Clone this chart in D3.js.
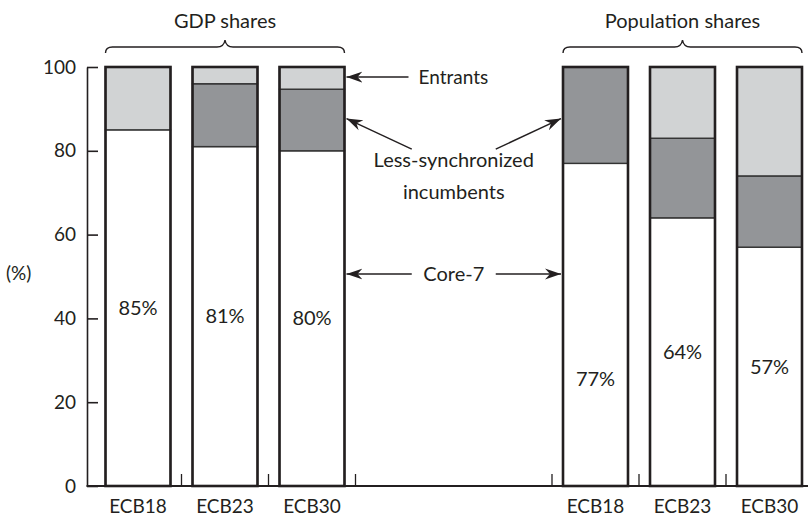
<!DOCTYPE html>
<html>
<head>
<meta charset="utf-8">
<script src="https://cdn.jsdelivr.net/npm/d3@7"></script>
<style>
  body { margin: 0; background: #fff; }
  svg { display: block; }
  text { font-family: Lato, "Open Sans", sans-serif; font-weight: 400; fill: #231f20; }
</style>
</head>
<body>
<div class="container"></div>
<script>
const WIDTH = 808;
const HEIGHT = 516;

const groups = ["GDP shares", "Population shares"];
const years = ["ECB18", "ECB23", "ECB30"];
const gdpCore = [85, 81, 80];
const gdpLess = [0, 15, 14.7];
const gdpEntrants = [15, 4, 5.3];
const popCore = [77, 64, 57];
const popLess = [23, 19, 17];
const popEntrants = [0, 17, 26];
const yTicks = [0, 20, 40, 60, 80, 100];

const KEYS = ["core", "less", "entrants"];
const COLORS = { core: "#ffffff", less: "#939598", entrants: "#d1d3d4" };
const INK = "#231f20";

var translate = function(x, y){
	return "translate(" + x + "," + y + ")";
};

var prepare = function(){
	var rows = [];
	years.forEach(function(yr, i){
		rows.push({group: groups[0], year: yr, core: gdpCore[i], less: gdpLess[i], entrants: gdpEntrants[i]});
	});
	years.forEach(function(yr, i){
		rows.push({group: groups[1], year: yr, core: popCore[i], less: popLess[i], entrants: popEntrants[i]});
	});
	return rows;
};

var data = prepare();

var svg = d3.select('.container').append('svg')
	.attr('width', WIDTH)
	.attr('height', HEIGHT);

var defs = svg.append('defs');
defs.append('marker')
	.attr('id', 'head')
	.attr('viewBox', '-16 -6 18 12')
	.attr('markerWidth', 18)
	.attr('markerHeight', 12)
	.attr('markerUnits', 'userSpaceOnUse')
	.attr('refX', 0)
	.attr('refY', 0)
	.attr('orient', 'auto')
	.append('path')
	.attr('d', 'M0,0 L-16,-5.5 L-11,0 L-16,5.5 Z')
	.attr('fill', INK);

var y = d3.scaleLinear().domain([0, 100]).range([486, 67]);

var xGroup = d3.scaleBand().domain(groups).range([94.5, 813]).paddingInner(0.4295);
var xYear = d3.scaleBand().domain(years).range([0, xGroup.bandwidth()])
	.paddingInner(0.253).paddingOuter(0.1265);

var barX = function(d){ return xGroup(d.group) + xYear(d.year); };

// y axis
var yAxis = d3.axisLeft(y).tickValues(yTicks).tickSize(-11).tickSizeOuter(0).tickPadding(11);
var gy = svg.append('g').attr('transform', translate(87, 0)).call(yAxis);
gy.select('.domain').attr('stroke', INK).attr('stroke-width', 1.6);
gy.selectAll('.tick line').attr('stroke', INK).attr('stroke-width', 1.6);
gy.selectAll('.tick text')
	.attr('font-size', 19)
	.attr('font-family', 'Lato, sans-serif')
	.attr('fill', INK);

svg.append('text')
	.attr('x', 6).attr('y', 280)
	.attr('font-size', 19)
	.text('(%)');

// stacked bars
var series = d3.stack().keys(KEYS)(data);

var layers = svg.append('g').selectAll('g')
	.data(series)
	.enter().append('g')
	.attr('fill', function(s){ return COLORS[s.key]; });

layers.selectAll('rect')
	.data(function(s){ return s.filter(function(d){ return d[1] - d[0] > 0; }); })
	.enter().append('rect')
	.attr('x', function(d){ return barX(d.data); })
	.attr('y', function(d){ return y(d[1]); })
	.attr('width', xYear.bandwidth())
	.attr('height', function(d){ return y(d[0]) - y(d[1]); })
	.attr('stroke', '#333')
	.attr('stroke-width', 1.4);

// outlines
svg.append('g').selectAll('rect')
	.data(data)
	.enter().append('rect')
	.attr('x', barX)
	.attr('y', y(100))
	.attr('width', xYear.bandwidth())
	.attr('height', y(0) - y(100))
	.attr('fill', 'none')
	.attr('stroke', INK)
	.attr('stroke-width', 2.6);

// x axis line and separators
var step = xYear.step();
var sepX = [];
groups.forEach(function(g){
	for (var k = 0; k <= years.length; k++) sepX.push(xGroup(g) + k * step);
});
sepX = sepX.slice(1);

var gx = svg.append('g');
gx.append('line')
	.attr('x1', 86.5).attr('x2', WIDTH)
	.attr('y1', y(0)).attr('y2', y(0))
	.attr('stroke', INK).attr('stroke-width', 1.8);
gx.selectAll('.sep')
	.data(sepX)
	.enter().append('line')
	.attr('x1', function(d){ return d; }).attr('x2', function(d){ return d; })
	.attr('y1', y(0)).attr('y2', y(0) - 12)
	.attr('stroke', INK).attr('stroke-width', 1.3);

gx.selectAll('.cat')
	.data(data)
	.enter().append('text')
	.attr('x', function(d){ return barX(d) + xYear.bandwidth() / 2; })
	.attr('y', 513)
	.attr('text-anchor', 'middle')
	.attr('font-size', 19)
	.text(function(d){ return d.year; });

// percentage labels inside core segment
var POP_FIRST_DROP = 54;
svg.append('g').selectAll('text')
	.data(data)
	.enter().append('text')
	.attr('x', function(d){ return barX(d) + xYear.bandwidth() / 2; })
	.attr('y', function(d, i){
		var cy = y(d.core / 2);
		if (d.group === groups[1] && d.year === years[0]) cy += POP_FIRST_DROP;
		return cy + 7;
	})
	.attr('text-anchor', 'middle')
	.attr('font-size', 20)
	.text(function(d){ return Math.round(d.core) + '%'; });

// braces and group titles
var brace = function(x0, x1, yb){
	var xm = (x0 + x1) / 2;
	return 'M' + x0 + ',' + (yb + 6) +
		' Q' + x0 + ',' + yb + ' ' + (x0 + 7) + ',' + yb +
		' L' + (xm - 8) + ',' + yb +
		' Q' + (xm - 1) + ',' + yb + ' ' + xm + ',' + (yb - 7) +
		' Q' + (xm + 1) + ',' + yb + ' ' + (xm + 8) + ',' + yb +
		' L' + (x1 - 7) + ',' + yb +
		' Q' + x1 + ',' + yb + ' ' + x1 + ',' + (yb + 6);
};

groups.forEach(function(g){
	var x0 = xGroup(g) + xYear(years[0]);
	var x1 = xGroup(g) + xYear(years[years.length - 1]) + xYear.bandwidth();
	svg.append('path')
		.attr('d', brace(x0, x1, 47))
		.attr('fill', 'none')
		.attr('stroke', INK)
		.attr('stroke-width', 1.4);
	svg.append('text')
		.attr('x', (x0 + x1) / 2)
		.attr('y', 28)
		.attr('text-anchor', 'middle')
		.attr('font-size', 20)
		.text(g);
});

// annotations
var leftEdge = xGroup(groups[0]) + xYear(years[2]) + xYear.bandwidth() + 2;
var rightEdge = xGroup(groups[1]) + xYear(years[0]) - 2;
var midX = (leftEdge + rightEdge) / 2;

var arrow = function(x1, y1, x2, y2){
	svg.append('line')
		.attr('x1', x1).attr('y1', y1)
		.attr('x2', x2).attr('y2', y2)
		.attr('stroke', INK).attr('stroke-width', 1.4)
		.attr('marker-end', 'url(#head)');
};

arrow(leftEdge + 62, y(97.6), leftEdge, y(97.6));
svg.append('text')
	.attr('x', leftEdge + 72).attr('y', y(97.6) + 7)
	.attr('font-size', 19)
	.text('Entrants');

arrow(midX - 42, y(80.4), leftEdge, y(87.7));
arrow(midX + 42, y(80.4), rightEdge, y(87.7));
svg.append('text')
	.attr('x', midX).attr('y', 167)
	.attr('text-anchor', 'middle')
	.attr('font-size', 20)
	.text('Less-synchronized');
svg.append('text')
	.attr('x', midX).attr('y', 199)
	.attr('text-anchor', 'middle')
	.attr('font-size', 20)
	.text('incumbents');

arrow(midX - 42, y(50.6), leftEdge, y(50.6));
arrow(midX + 42, y(50.6), rightEdge, y(50.6));
svg.append('text')
	.attr('x', midX).attr('y', y(50.6) + 7)
	.attr('text-anchor', 'middle')
	.attr('font-size', 20)
	.text('Core-7');
</script>
</body>
</html>
